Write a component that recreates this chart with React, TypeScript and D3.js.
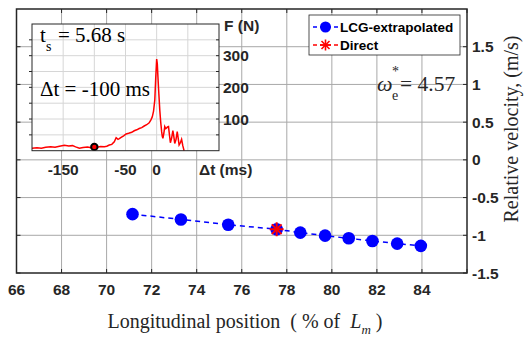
import React from "react";
import * as d3 from "d3";

const positions = [71.15, 73.3, 75.4, 77.55, 78.6, 79.7, 80.75, 81.8, 82.9, 83.95];
const velocities = [-0.72, -0.79, -0.86, -0.92, -0.965, -1.005, -1.04, -1.075, -1.11, -1.14];
const directPos = [77.55];
const directVel = [-0.92];
const xTicks = [66, 68, 70, 72, 74, 76, 78, 80, 82, 84, 86];
const xTickLabels = ["66", "68", "70", "72", "74", "76", "78", "80", "82", "84", ""];
const yTicks = [-1.5, -1, -0.5, 0, 0.5, 1, 1.5];
const yTickLabels = ["-1.5", "-1", "-0.5", "0", "0.5", "1", "1.5"];

const sigT = [-200, -192, -185, -178, -170, -163, -156, -148, -141, -135, -130, -124, -118, -111, -105, -100, -95, -90, -84, -80, -76, -72, -68, -65, -62, -60, -57, -53, -49, -45, -40, -36, -32, -28, -24, -20, -16, -12, -9, -7, -5, -3, -1.5, 0, 1, 2, 3.5, 5, 6.5, 8, 9, 10, 11.5, 13, 14.5, 16, 17.5, 19, 20.5, 22, 24, 26, 27.5, 29, 31, 33, 34.5, 36, 38, 40, 42, 44];
const sigF = [7.6, 9, 8, 11, 12.6, 11, 14, 17, 15, 16, 12, 7.6, 10, 11.7, 9, 12, 11, 13, 12.6, 14, 18, 20, 28, 41, 36, 38, 42, 47, 53, 55, 58, 63, 66, 70, 73, 78, 82, 88, 98, 107, 125, 160, 230, 289, 275, 234, 180, 128, 90, 60, 45, 39, 55, 76, 70, 72, 75, 76, 50, 25, 40, 63, 45, 23, 35, 60, 40, 18, 25, 36, 15, 0];
const markerT = [-100];
const markerF = [12];
const insetXTicks = [-150, -50, 0];
const insetXGrid = [-150, -100, -50, 0, 50];
const insetYTicks = [100, 200, 300];
const insetYGrid = [50, 100, 150, 200, 250, 300, 350];

export default function App() {
  const x = d3.scaleLinear().domain([66, 86]).range([16.5, 467]);
  const y = d3.scaleLinear().domain([-1.5, 2]).range([273, 9]);
  const ix = d3.scaleLinear().domain([-200, 100]).range([32, 219]);
  const iy = d3.scaleLinear().domain([0, 400]).range([150.7, 24]);

  const mainLine = d3.line<number>().x((_, i) => x(positions[i])).y((d) => y(d));
  const sigLine = d3.line<number>().x((_, i) => ix(sigT[i])).y((d) => iy(d));

  const boldFont = "'Liberation Sans', Arial, sans-serif";
  const serif = "'Liberation Serif', 'Times New Roman', serif";
  const axisColor = "#262626";
  const gridColor = "#a8a8a8";

  const x0 = x(66), x1 = x(86), y0 = y(-1.5), y1 = y(2);

  return (
    <svg width={524} height={341} style={{ position: "absolute", left: 0, top: 0, background: "#fff" }}>
      {xTicks.slice(1, -1).map((t) => (
        <line key={"gx" + t} x1={x(t)} x2={x(t)} y1={y0} y2={y1} stroke={gridColor} strokeWidth={1} />
      ))}
      {yTicks.slice(1).map((t) => (
        <line key={"gy" + t} x1={x0} x2={x1} y1={y(t)} y2={y(t)} stroke={gridColor} strokeWidth={1} />
      ))}
      {xTicks.map((t, i) => (
        <g key={"tx" + t}>
          <line x1={x(t)} x2={x(t)} y1={y0} y2={y0 - 4} stroke={axisColor} strokeWidth={1} />
          <line x1={x(t)} x2={x(t)} y1={y1} y2={y1 + 4} stroke={axisColor} strokeWidth={1} />
          <text x={x(t)} y={y0 + 22} textAnchor="middle" fontFamily={boldFont} fontWeight="bold" fontSize={15.5} fill={axisColor}>{xTickLabels[i]}</text>
        </g>
      ))}
      {yTicks.map((t, i) => (
        <g key={"ty" + t}>
          <line x1={x0} x2={x0 + 4} y1={y(t)} y2={y(t)} stroke={axisColor} strokeWidth={1} />
          <line x1={x1} x2={x1 - 4} y1={y(t)} y2={y(t)} stroke={axisColor} strokeWidth={1} />
          <text x={x1 + 5} y={y(t) + 5.5} textAnchor="start" fontFamily={boldFont} fontWeight="bold" fontSize={15.5} fill={axisColor}>{yTickLabels[i]}</text>
        </g>
      ))}
      <rect x={x0} y={y1} width={x1 - x0} height={y0 - y1} fill="none" stroke={axisColor} strokeWidth={1.5} />

      <path d={mainLine(velocities) || ""} fill="none" stroke="#0000ff" strokeWidth={1.5} strokeDasharray="5,4" />
      {positions.map((p, i) => (
        <circle key={"c" + i} cx={x(p)} cy={y(velocities[i])} r={6.3} fill="#0000ff" />
      ))}
      {directPos.map((p, i) => {
        const cx = x(p), cy = y(directVel[i]), r = 7;
        return (
          <g key={"s" + i} stroke="#ff0000" strokeWidth={2}>
            <line x1={cx - r} x2={cx + r} y1={cy} y2={cy} />
            <line x1={cx} x2={cx} y1={cy - r} y2={cy + r} />
            <line x1={cx - r * 0.7} x2={cx + r * 0.7} y1={cy - r * 0.7} y2={cy + r * 0.7} />
            <line x1={cx - r * 0.7} x2={cx + r * 0.7} y1={cy + r * 0.7} y2={cy - r * 0.7} />
          </g>
        );
      })}

      <text x={245} y={328} textAnchor="middle" fontFamily={serif} fontSize={20} fill="#262626" style={{ whiteSpace: "pre" }}>
        {"Longitudinal position  ( % of  "}<tspan fontStyle="italic">L</tspan>
        <tspan fontStyle="italic" fontSize={13} dy={6}>m</tspan>
        <tspan dy={-6}>{" )"}</tspan>
      </text>
      <text transform="translate(518,129) rotate(-90)" textAnchor="middle" fontFamily={serif} fontSize={20} fill="#262626">
        Relative velocity, (m/s)
      </text>

      <text x={377} y={91} fontFamily={serif} fontSize={22} fill="#262626">
        <tspan fontStyle="italic">ω</tspan>
      </text>
      <text x={392} y={76} fontFamily={serif} fontSize={14} fill="#262626">*</text>
      <text x={392} y={100} fontFamily={serif} fontSize={14} fill="#262626">e</text>
      <text x={400} y={91} fontFamily={serif} fontSize={21.5} fill="#262626">= 4.57</text>

      <rect x={309} y={15} width={151} height={40} fill="#fff" stroke="#262626" strokeWidth={0.8} />
      <line x1={313} x2={338} y1={27} y2={27} stroke="#0000ff" strokeWidth={1.5} strokeDasharray="4,3" />
      <circle cx={325.5} cy={27} r={5.5} fill="#0000ff" />
      <text x={340} y={32} fontFamily={boldFont} fontWeight="bold" fontSize={13.5} fill="#000">LCG-extrapolated</text>
      <line x1={313} x2={338} y1={45} y2={45} stroke="#ff0000" strokeWidth={1.5} strokeDasharray="4,3" />
      <g stroke="#ff0000" strokeWidth={1.6}>
        <line x1={320} x2={331} y1={45} y2={45} />
        <line x1={325.5} x2={325.5} y1={39.5} y2={50.5} />
        <line x1={321.5} x2={329.5} y1={41} y2={49} />
        <line x1={321.5} x2={329.5} y1={49} y2={41} />
      </g>
      <text x={340} y={50} fontFamily={boldFont} fontWeight="bold" fontSize={13.5} fill="#000">Direct</text>

      <rect x={ix(-200)} y={iy(400)} width={ix(100) - ix(-200)} height={iy(0) - iy(400)} fill="#fff" />
      {insetXGrid.map((t) => (
        <line key={"ig" + t} x1={ix(t)} x2={ix(t)} y1={iy(0)} y2={iy(400)} stroke="#d6d6d6" strokeWidth={1} />
      ))}
      {insetYGrid.map((t) => (
        <line key={"igy" + t} x1={ix(-200)} x2={ix(100)} y1={iy(t)} y2={iy(t)} stroke="#d6d6d6" strokeWidth={1} />
      ))}
      {insetYGrid.map((t) => (
        <g key={"it" + t}>
          <line x1={ix(100)} x2={ix(100) - 3} y1={iy(t)} y2={iy(t)} stroke={axisColor} strokeWidth={1} />
          <line x1={ix(-200)} x2={ix(-200) - 3} y1={iy(t)} y2={iy(t)} stroke={axisColor} strokeWidth={1} />
        </g>
      ))}
      <path d={sigLine(sigF) || ""} fill="none" stroke="#ff0000" strokeWidth={1.5} />
      {markerT.map((t, i) => (
        <circle key={"m" + i} cx={ix(t)} cy={iy(markerF[i])} r={3.2} fill="#ff0000" stroke="#000" strokeWidth={2} />
      ))}
      <rect x={ix(-200)} y={iy(400)} width={ix(100) - ix(-200)} height={iy(0) - iy(400)} fill="none" stroke={axisColor} strokeWidth={1} />
      <text x={40} y={42} fontFamily={serif} fontSize={21} fill="#000">t</text>
      <text x={46} y={51} fontFamily={serif} fontSize={14} fill="#000">s</text>
      <text x={58} y={42} fontFamily={serif} fontSize={21} fill="#000">= 5.68 s</text>
      <text x={40} y={96} fontFamily={serif} fontSize={21} fill="#000">Δt = -100 ms</text>
      {insetYTicks.map((t) => (
        <text key={"il" + t} x={223} y={iy(t) + 5.5} fontFamily={boldFont} fontWeight="bold" fontSize={15.5} fill={axisColor}>{t}</text>
      ))}
      <text x={224} y={31} fontFamily={boldFont} fontWeight="bold" fontSize={15.5} fill={axisColor}>F (N)</text>
      {insetXTicks.map((t) => (
        <text key={"ixl" + t} x={ix(t)} y={175} textAnchor="middle" fontFamily={boldFont} fontWeight="bold" fontSize={15.5} fill={axisColor}>{t}</text>
      ))}
      <text x={199} y={175} fontFamily={boldFont} fontWeight="bold" fontSize={15.5} fill={axisColor}>Δt (ms)</text>
    </svg>
  );
}
